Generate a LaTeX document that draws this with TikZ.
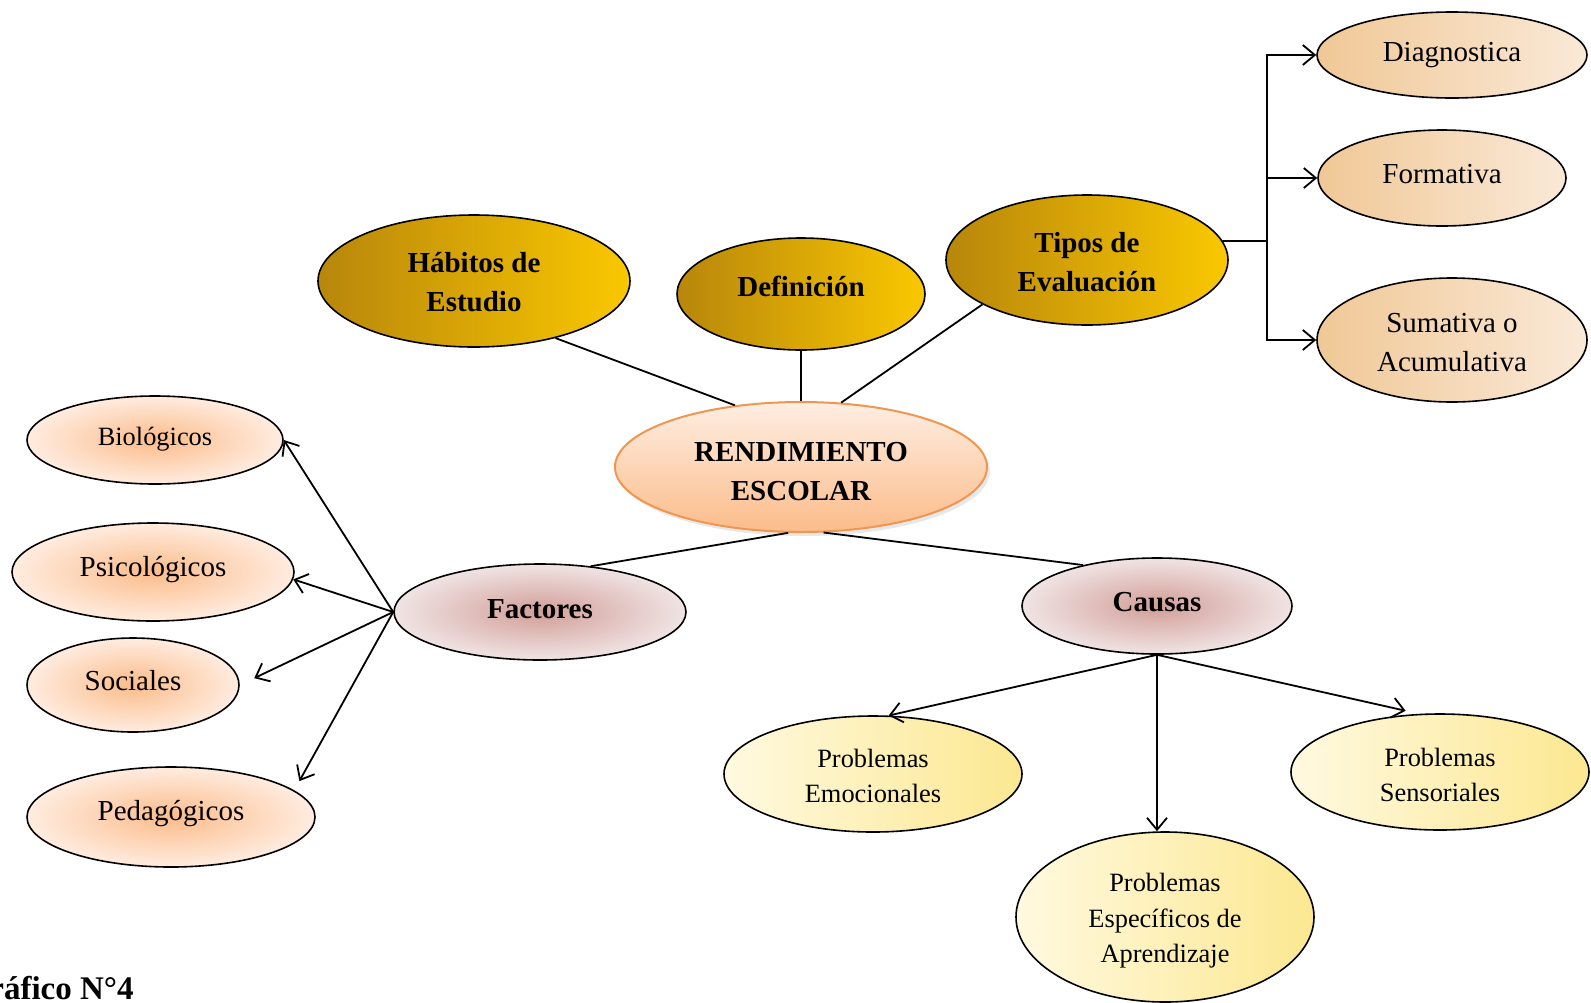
\documentclass[tikz,border=0pt]{standalone}
\usepackage{fontspec}
\setmainfont{Liberation Serif}
\usetikzlibrary{shapes.geometric,arrows.meta,shadows}
\definecolor{goldL}{RGB}{184,134,11}
\definecolor{goldR}{RGB}{250,200,0}
\definecolor{tanA}{RGB}{240,200,150}
\definecolor{tanB}{RGB}{250,233,216}
\definecolor{rendTop}{RGB}{254,238,226}
\definecolor{rendBot}{RGB}{251,188,138}
\definecolor{rendLine}{RGB}{240,150,80}
\definecolor{roseIn}{RGB}{210,158,152}
\definecolor{roseOut}{RGB}{240,228,228}
\definecolor{peachIn}{RGB}{251,188,138}
\definecolor{peachOut}{RGB}{255,236,224}
\definecolor{creamA}{RGB}{255,249,224}
\definecolor{creamB}{RGB}{252,232,145}
\newcommand{\bigtxt}{\fontsize{14.5}{19.3}\selectfont}
\newcommand{\smalltxt}{\fontsize{13.2}{17.6}\selectfont}
% several lines, moved up or down as a block
\newcommand{\block}[2]{\raisebox{#1}[\height][\depth]{\begin{tabular}{@{}c@{}}#2\end{tabular}}}

\begin{document}
\begin{tikzpicture}[x=0.5pt, y=-0.5pt, >={Straight Barb[length=6pt,width=10pt]},
    oval/.style={ellipse, draw, line width=0.8pt, inner sep=0pt, align=center},
    goldoval/.style={oval, left color=goldL, right color=goldR, font=\bfseries\bigtxt},
    tanoval/.style={oval, left color=tanA, right color=tanB, font=\bigtxt},
    roseoval/.style={oval, inner color=roseIn, outer color=roseOut, font=\bfseries\bigtxt},
    peachoval/.style={oval, inner color=peachIn, outer color=peachOut},
    creamoval/.style={oval, left color=creamA, right color=creamB, font=\smalltxt},
    link/.style={line width=0.9pt}]
        \useasboundingbox (0,0) rectangle (1591,1002);
        % centre
        \node[oval, draw=rendLine, line width=1pt, top color=rendTop, bottom color=rendBot,
              drop shadow={opacity=0.18, shadow xshift=1.5pt, shadow yshift=-2pt},
              font=\bfseries\bigtxt, minimum width=186pt, minimum height=65pt] (rend) at (801,467) {\block{-3pt}{RENDIMIENTO\\ESCOLAR}};
        % upper ovals
        \node[goldoval, minimum width=156pt, minimum height=66pt] (habi) at (474,281) {\block{-1.5pt}{Hábitos de\\Estudio}};
        \node[goldoval, minimum width=124pt, minimum height=56pt] (defi) at (801,294) {\raisebox{7.5pt}{Definición}};
        \node[goldoval, minimum width=141pt, minimum height=65pt] (tipos) at (1087,260) {\block{-2pt}{Tipos de\\Evaluación}};
        \node[tanoval, minimum width=135pt, minimum height=43pt] (diag) at (1452,55) {Diagnostica};
        \node[tanoval, minimum width=124pt, minimum height=48pt] (form) at (1442,178) {\raisebox{4.5pt}{Formativa}};
        \node[tanoval, minimum width=135pt, minimum height=62pt, font=\fontsize{14.5}{19.8}\selectfont] (suma) at (1452,340) {\block{-2pt}{Sumativa o\\Acumulativa}};
        % lower ovals
        \node[roseoval, minimum width=146pt, minimum height=48pt] (fact) at (540,612) {\raisebox{3pt}{Factores}};
        \node[roseoval, minimum width=135pt, minimum height=48pt] (caus) at (1157,606) {\raisebox{4pt}{Causas}};
        \node[peachoval, font=\smalltxt, minimum width=128pt, minimum height=44pt] (bio) at (155,440) {\raisebox{4pt}{Biológicos}};
        \node[peachoval, font=\bigtxt, minimum width=141pt, minimum height=49pt] (psi) at (153,572) {\raisebox{5.5pt}{Psicológicos}};
        \node[peachoval, font=\bigtxt, minimum width=106pt, minimum height=47pt] (soc) at (133,685) {\raisebox{4.5pt}{Sociales}};
        \node[peachoval, font=\bigtxt, minimum width=144pt, minimum height=50pt] (ped) at (171,817) {\raisebox{6.5pt}{Pedagógicos}};
        \node[creamoval, minimum width=149pt, minimum height=58pt] (emo) at (873,774) {\block{-2pt}{Problemas\\Emocionales}};
        \node[creamoval, minimum width=149pt, minimum height=85pt] (esp) at (1165,917) {\block{-1.5pt}{Problemas\\Específicos de\\Aprendizaje}};
        \node[creamoval, minimum width=149pt, minimum height=58pt] (sens) at (1440,772) {\block{-2.5pt}{Problemas\\Sensoriales}};
        % plain links
        \draw[link] (habi.-35) -- (rend.137);
        \draw[link] (defi.south) -- (rend.north);
        \draw[link] (tipos.203) -- (rend.58);
        \draw[link] (rend.-101) -- (fact.42);
        \draw[link] (rend.-71) -- (caus.151);
        % bracket
        \coordinate (br) at (1267,241);
        \draw[link] (tipos.8) -- (br);
        \foreach \t in {diag, form, suma} {
            \draw[link,->] (br) |- (\t.west);
        }
        % arrows
        \foreach \t in {bio.east, psi.-3} {
            \draw[link,->] (fact.west) -- (\t);
        }
        \draw[link,->,shorten >=8pt] (fact.west) -- (soc.east);
        \draw[link,->] (fact.west) -- ([xshift=13pt]ped.north east);
        \draw[link,->] (caus.south) -- (emo.75);
        \draw[link,->] (caus.south) -- (caus.south |- esp.north);
        \draw[link,->] (caus.south) -- ([yshift=2pt]sens.121);
        % caption
        \node[anchor=base east, font=\bfseries\fontsize{16.5}{20}\selectfont, inner sep=0pt] (cap) at (134,999) {Gráfico N°4};
    \end{tikzpicture}
\end{document}
